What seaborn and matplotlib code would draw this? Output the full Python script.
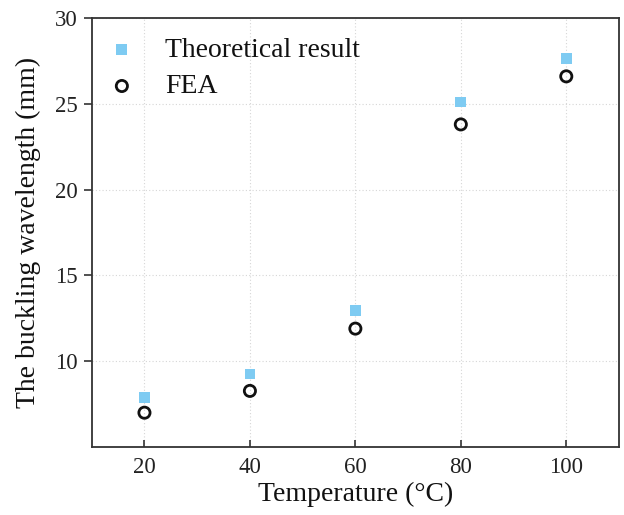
import matplotlib
matplotlib.use("Agg")
import matplotlib.pyplot as plt
import seaborn as sns
import pandas as pd

temperature = [20, 40, 60, 80, 100]
theoretical = [7.9, 9.25, 12.95, 25.1, 27.65]
fea = [7.0, 8.27, 11.9, 23.8, 26.6]

sns.set_theme(style="white")
plt.rcParams['font.family'] = ['Liberation Serif', 'DejaVu Serif']
plt.rcParams['mathtext.fontset'] = 'stix'

fig = plt.figure(figsize=(6.24, 5.15), dpi=100)
ax = fig.add_axes([0.147, 0.132, 0.845, 0.833])

df = pd.DataFrame({"T": temperature * 2,
                   "v": theoretical + fea,
                   "s": ["Theoretical result"] * 5 + ["FEA"] * 5})

sns.scatterplot(data=df[df.s == "Theoretical result"], x="T", y="v", ax=ax,
                marker="s", s=60, color="#7ecbf2", edgecolor="none",
                label="Theoretical result", zorder=3)
sns.scatterplot(data=df[df.s == "FEA"], x="T", y="v", ax=ax,
                marker="o", s=65, facecolor="none", edgecolor="#111111",
                linewidth=2, label="FEA", zorder=3)

ax.set_xlim(10, 110)
ax.set_ylim(5, 30)
ax.set_xticks([20, 40, 60, 80, 100])
ax.set_yticks([10, 15, 20, 25, 30])
ax.grid(True, linestyle=(0, (1, 2)), color="#d6d6d6", linewidth=0.8)
ax.set_axisbelow(True)
for sp in ax.spines.values():
    sp.set_color("#333333")
    sp.set_linewidth(1.3)
ax.tick_params(axis="x", direction="in", length=5, width=1.2, labelsize=16.5, colors="#333333", pad=7, bottom=True)
ax.tick_params(axis="y", direction="out", length=6, width=1.2, labelsize=16.5, colors="#333333", left=True, pad=4)
for lbl in ax.get_xticklabels() + ax.get_yticklabels():
    lbl.set_color("#222222")
ax.set_xlabel("Temperature (°C)", fontsize=20, color="#111111", labelpad=3)
ax.set_ylabel("The buckling wavelength (mm)", fontsize=20, color="#111111", labelpad=10)

leg = ax.legend(loc="upper left", frameon=False, fontsize=20, handlelength=1.37,
                handletextpad=0.86, borderaxespad=0.0, borderpad=0.4,
                labelspacing=0.4, bbox_to_anchor=(0.0, 0.981))
for t in leg.get_texts():
    t.set_color("#111111")

fig.savefig("out.png", dpi=100)
